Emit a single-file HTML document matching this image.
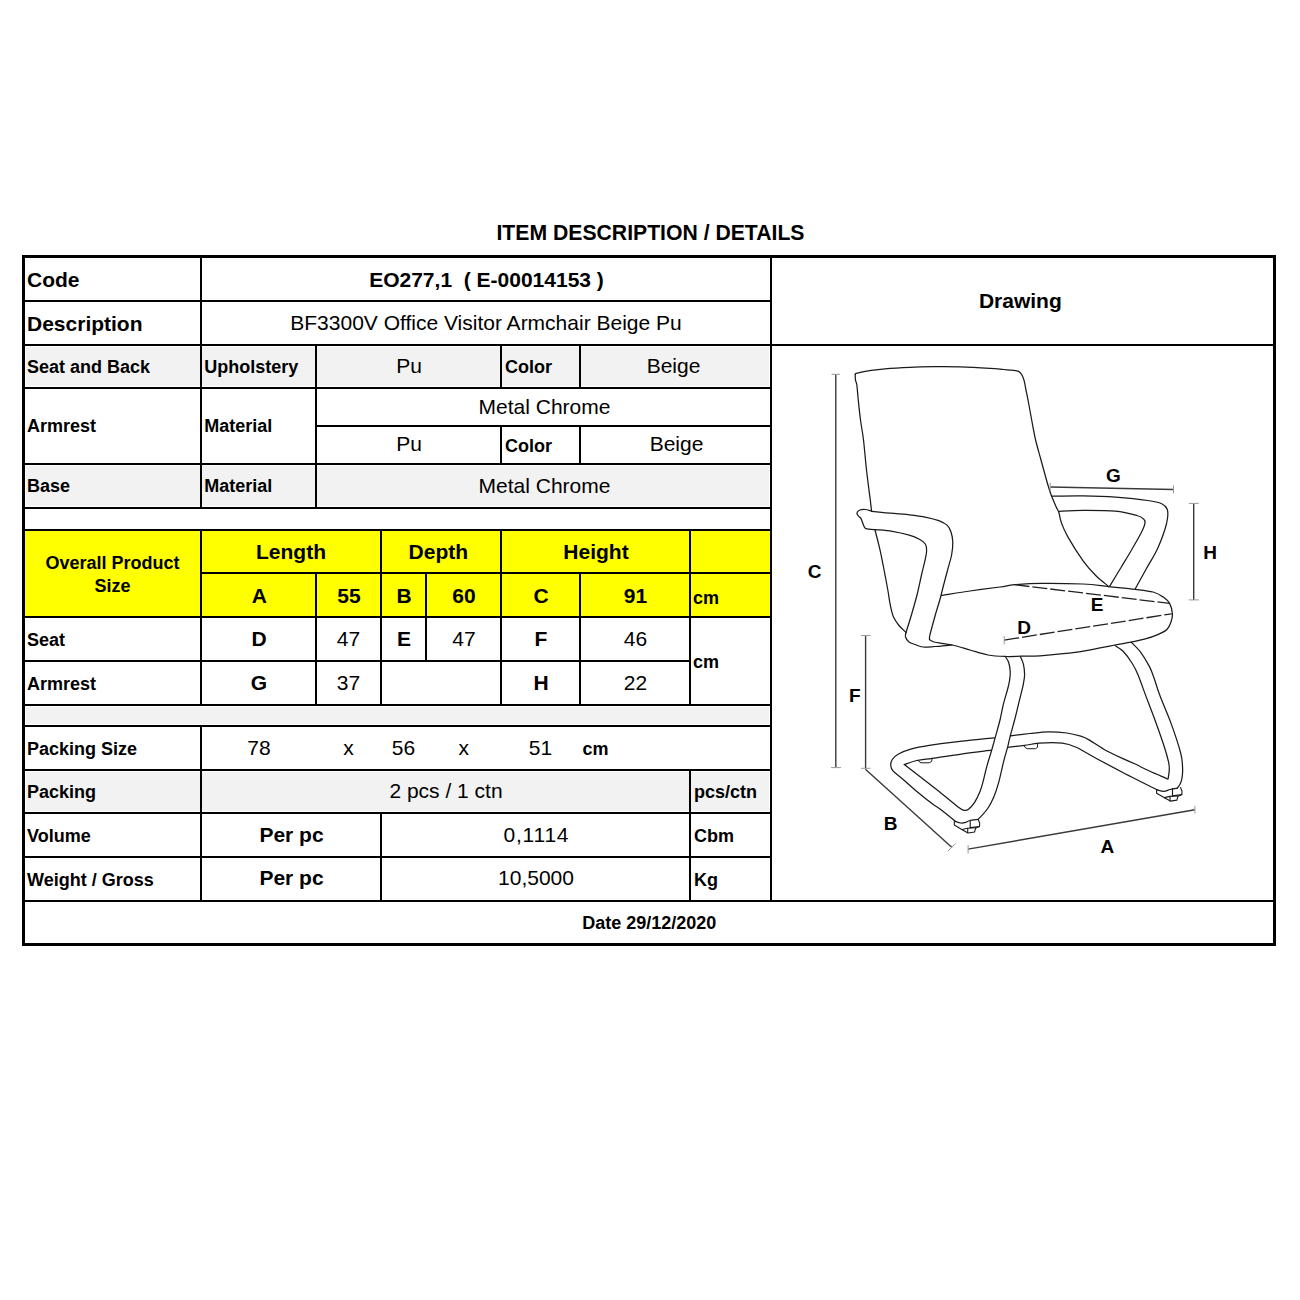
<!DOCTYPE html>
<html><head><meta charset="utf-8"><style>
html,body{margin:0;padding:0;background:#fff;width:1300px;height:1300px;overflow:hidden}
body{position:relative;font-family:"Liberation Sans", sans-serif;color:#000}
div{position:absolute}
.t{white-space:pre;}
</style></head><body>
<div style="left:26px;top:347px;width:743px;height:39px;background:#f2f2f2"></div><div style="left:26px;top:466px;width:743px;height:40px;background:#f2f2f2"></div><div style="left:26px;top:707px;width:743px;height:17px;background:#f2f2f2"></div><div style="left:26px;top:772px;width:743px;height:39px;background:#f2f2f2"></div><div style="left:25px;top:531px;width:745px;height:85px;background:#ffff00"></div><div style="left:22px;top:255px;width:1254px;height:3px;background:#000"></div><div style="left:22px;top:943px;width:1254px;height:3px;background:#000"></div><div style="left:22px;top:255px;width:3px;height:691px;background:#000"></div><div style="left:1273px;top:255px;width:3px;height:691px;background:#000"></div><div style="left:22px;top:300px;width:749px;height:2px;background:#000"></div><div style="left:22px;top:344px;width:1252px;height:2px;background:#000"></div><div style="left:22px;top:387px;width:749px;height:2px;background:#000"></div><div style="left:316px;top:425px;width:455px;height:2px;background:#000"></div><div style="left:22px;top:463px;width:749px;height:2px;background:#000"></div><div style="left:22px;top:507px;width:749px;height:2px;background:#000"></div><div style="left:22px;top:529px;width:749px;height:2px;background:#000"></div><div style="left:200px;top:572px;width:571px;height:2px;background:#000"></div><div style="left:22px;top:616px;width:749px;height:2px;background:#000"></div><div style="left:22px;top:660px;width:668px;height:2px;background:#000"></div><div style="left:22px;top:704px;width:749px;height:2px;background:#000"></div><div style="left:22px;top:725px;width:749px;height:2px;background:#000"></div><div style="left:22px;top:769px;width:749px;height:2px;background:#000"></div><div style="left:22px;top:812px;width:749px;height:2px;background:#000"></div><div style="left:22px;top:856px;width:749px;height:2px;background:#000"></div><div style="left:22px;top:900px;width:1252px;height:2px;background:#000"></div><div style="left:770px;top:255px;width:2px;height:646px;background:#000"></div><div style="left:200px;top:255px;width:2px;height:253px;background:#000"></div><div style="left:200px;top:529px;width:2px;height:176px;background:#000"></div><div style="left:200px;top:725px;width:2px;height:176px;background:#000"></div><div style="left:315px;top:344px;width:2px;height:164px;background:#000"></div><div style="left:315px;top:572px;width:2px;height:133px;background:#000"></div><div style="left:380px;top:529px;width:2px;height:176px;background:#000"></div><div style="left:380px;top:812px;width:2px;height:89px;background:#000"></div><div style="left:425px;top:572px;width:2px;height:90px;background:#000"></div><div style="left:500px;top:344px;width:2px;height:44px;background:#000"></div><div style="left:500px;top:425px;width:2px;height:39px;background:#000"></div><div style="left:500px;top:529px;width:2px;height:176px;background:#000"></div><div style="left:579px;top:344px;width:2px;height:44px;background:#000"></div><div style="left:579px;top:425px;width:2px;height:39px;background:#000"></div><div style="left:579px;top:572px;width:2px;height:133px;background:#000"></div><div style="left:689px;top:529px;width:2px;height:176px;background:#000"></div><div style="left:689px;top:769px;width:2px;height:132px;background:#000"></div><div class="t" style="left:350.5px;width:600px;text-align:center;top:222.05px;font-size:21.2px;line-height:21.2px;font-weight:bold;">ITEM DESCRIPTION / DETAILS</div><div class="t" style="left:27px;top:268.72px;font-size:21px;line-height:21px;font-weight:bold;">Code</div><div class="t" style="left:186.5px;width:600px;text-align:center;top:268.72px;font-size:21px;line-height:21px;font-weight:bold;">EO277,1&nbsp;&nbsp;( E-00014153 )</div><div class="t" style="left:27px;top:312.72px;font-size:21px;line-height:21px;font-weight:bold;">Description</div><div class="t" style="left:186px;width:600px;text-align:center;top:312.22px;font-size:21px;line-height:21px;">BF3300V Office Visitor Armchair Beige Pu</div><div class="t" style="left:720.3px;width:600px;text-align:center;top:289.82px;font-size:21px;line-height:21px;font-weight:bold;">Drawing</div><div class="t" style="left:27px;top:358.26px;font-size:18px;line-height:18px;font-weight:bold;">Seat and Back</div><div class="t" style="left:204.3px;top:358.26px;font-size:18px;line-height:18px;font-weight:bold;">Upholstery</div><div class="t" style="left:109px;width:600px;text-align:center;top:354.72px;font-size:21px;line-height:21px;">Pu</div><div class="t" style="left:505px;top:358.26px;font-size:18px;line-height:18px;font-weight:bold;">Color</div><div class="t" style="left:373.5px;width:600px;text-align:center;top:354.72px;font-size:21px;line-height:21px;">Beige</div><div class="t" style="left:27px;top:417.26px;font-size:18px;line-height:18px;font-weight:bold;">Armrest</div><div class="t" style="left:204.3px;top:417.26px;font-size:18px;line-height:18px;font-weight:bold;">Material</div><div class="t" style="left:244.5px;width:600px;text-align:center;top:396.22px;font-size:21px;line-height:21px;">Metal Chrome</div><div class="t" style="left:109px;width:600px;text-align:center;top:433.22px;font-size:21px;line-height:21px;">Pu</div><div class="t" style="left:505px;top:437.26px;font-size:18px;line-height:18px;font-weight:bold;">Color</div><div class="t" style="left:376.5px;width:600px;text-align:center;top:433.22px;font-size:21px;line-height:21px;">Beige</div><div class="t" style="left:27px;top:477.26px;font-size:18px;line-height:18px;font-weight:bold;">Base</div><div class="t" style="left:204.3px;top:477.26px;font-size:18px;line-height:18px;font-weight:bold;">Material</div><div class="t" style="left:244.5px;width:600px;text-align:center;top:474.72px;font-size:21px;line-height:21px;">Metal Chrome</div><div class="t" style="left:-187.5px;width:600px;text-align:center;top:554.26px;font-size:18px;line-height:18px;font-weight:bold;">Overall Product</div><div class="t" style="left:-187.5px;width:600px;text-align:center;top:577.26px;font-size:18px;line-height:18px;font-weight:bold;">Size</div><div class="t" style="left:-9px;width:600px;text-align:center;top:541.22px;font-size:21px;line-height:21px;font-weight:bold;">Length</div><div class="t" style="left:138.3px;width:600px;text-align:center;top:541.22px;font-size:21px;line-height:21px;font-weight:bold;">Depth</div><div class="t" style="left:296px;width:600px;text-align:center;top:541.22px;font-size:21px;line-height:21px;font-weight:bold;">Height</div><div class="t" style="left:-40.60000000000002px;width:600px;text-align:center;top:585.22px;font-size:21px;line-height:21px;font-weight:bold;">A</div><div class="t" style="left:49px;width:600px;text-align:center;top:585.22px;font-size:21px;line-height:21px;font-weight:bold;">55</div><div class="t" style="left:104px;width:600px;text-align:center;top:585.22px;font-size:21px;line-height:21px;font-weight:bold;">B</div><div class="t" style="left:164px;width:600px;text-align:center;top:585.22px;font-size:21px;line-height:21px;font-weight:bold;">60</div><div class="t" style="left:241px;width:600px;text-align:center;top:585.22px;font-size:21px;line-height:21px;font-weight:bold;">C</div><div class="t" style="left:335.5px;width:600px;text-align:center;top:585.22px;font-size:21px;line-height:21px;font-weight:bold;">91</div><div class="t" style="left:693px;top:588.76px;font-size:18px;line-height:18px;font-weight:bold;">cm</div><div class="t" style="left:27px;top:631.26px;font-size:18px;line-height:18px;font-weight:bold;">Seat</div><div class="t" style="left:27px;top:675.26px;font-size:18px;line-height:18px;font-weight:bold;">Armrest</div><div class="t" style="left:-41px;width:600px;text-align:center;top:627.72px;font-size:21px;line-height:21px;font-weight:bold;">D</div><div class="t" style="left:48.5px;width:600px;text-align:center;top:627.72px;font-size:21px;line-height:21px;">47</div><div class="t" style="left:104px;width:600px;text-align:center;top:627.72px;font-size:21px;line-height:21px;font-weight:bold;">E</div><div class="t" style="left:164px;width:600px;text-align:center;top:627.72px;font-size:21px;line-height:21px;">47</div><div class="t" style="left:241px;width:600px;text-align:center;top:627.72px;font-size:21px;line-height:21px;font-weight:bold;">F</div><div class="t" style="left:335.5px;width:600px;text-align:center;top:627.72px;font-size:21px;line-height:21px;">46</div><div class="t" style="left:-41px;width:600px;text-align:center;top:671.72px;font-size:21px;line-height:21px;font-weight:bold;">G</div><div class="t" style="left:48.5px;width:600px;text-align:center;top:671.72px;font-size:21px;line-height:21px;">37</div><div class="t" style="left:241px;width:600px;text-align:center;top:671.72px;font-size:21px;line-height:21px;font-weight:bold;">H</div><div class="t" style="left:335.5px;width:600px;text-align:center;top:671.72px;font-size:21px;line-height:21px;">22</div><div class="t" style="left:693px;top:652.76px;font-size:18px;line-height:18px;font-weight:bold;">cm</div><div class="t" style="left:27px;top:740.26px;font-size:18px;line-height:18px;font-weight:bold;">Packing Size</div><div class="t" style="left:-41px;width:600px;text-align:center;top:736.72px;font-size:21px;line-height:21px;">78</div><div class="t" style="left:48.5px;width:600px;text-align:center;top:736.72px;font-size:21px;line-height:21px;">x</div><div class="t" style="left:103.5px;width:600px;text-align:center;top:736.72px;font-size:21px;line-height:21px;">56</div><div class="t" style="left:163.8px;width:600px;text-align:center;top:736.72px;font-size:21px;line-height:21px;">x</div><div class="t" style="left:240.5px;width:600px;text-align:center;top:736.72px;font-size:21px;line-height:21px;">51</div><div class="t" style="left:582.5px;top:740.26px;font-size:18px;line-height:18px;font-weight:bold;">cm</div><div class="t" style="left:27px;top:783.46px;font-size:18px;line-height:18px;font-weight:bold;">Packing</div><div class="t" style="left:146px;width:600px;text-align:center;top:779.92px;font-size:21px;line-height:21px;">2 pcs / 1 ctn</div><div class="t" style="left:694px;top:783.46px;font-size:18px;line-height:18px;font-weight:bold;">pcs/ctn</div><div class="t" style="left:27px;top:827.06px;font-size:18px;line-height:18px;font-weight:bold;">Volume</div><div class="t" style="left:-8.5px;width:600px;text-align:center;top:823.52px;font-size:21px;line-height:21px;font-weight:bold;">Per pc</div><div class="t" style="left:236.39999999999998px;width:600px;text-align:center;top:823.52px;font-size:21px;line-height:21px;letter-spacing:0.8px;">0,1114</div><div class="t" style="left:694px;top:827.06px;font-size:18px;line-height:18px;font-weight:bold;">Cbm</div><div class="t" style="left:27px;top:870.76px;font-size:18px;line-height:18px;font-weight:bold;">Weight / Gross</div><div class="t" style="left:-8.5px;width:600px;text-align:center;top:867.22px;font-size:21px;line-height:21px;font-weight:bold;">Per pc</div><div class="t" style="left:236px;width:600px;text-align:center;top:867.22px;font-size:21px;line-height:21px;">10,5000</div><div class="t" style="left:694px;top:870.76px;font-size:18px;line-height:18px;font-weight:bold;">Kg</div><div class="t" style="left:349.29999999999995px;width:600px;text-align:center;top:913.76px;font-size:18px;line-height:18px;font-weight:bold;">Date 29/12/2020</div><div class="t" style="left:514.6px;width:600px;text-align:center;top:562.22px;font-size:19px;line-height:19px;font-weight:bold;">C</div><div class="t" style="left:554.8px;width:600px;text-align:center;top:685.62px;font-size:19px;line-height:19px;font-weight:bold;">F</div><div class="t" style="left:590.6px;width:600px;text-align:center;top:813.62px;font-size:19px;line-height:19px;font-weight:bold;">B</div><div class="t" style="left:807.4000000000001px;width:600px;text-align:center;top:837.22px;font-size:19px;line-height:19px;font-weight:bold;">A</div><div class="t" style="left:813.5px;width:600px;text-align:center;top:465.52px;font-size:19px;line-height:19px;font-weight:bold;">G</div><div class="t" style="left:910.2px;width:600px;text-align:center;top:542.82px;font-size:19px;line-height:19px;font-weight:bold;">H</div><div class="t" style="left:797px;width:600px;text-align:center;top:595.22px;font-size:19px;line-height:19px;font-weight:bold;">E</div><div class="t" style="left:724.0999999999999px;width:600px;text-align:center;top:618.42px;font-size:19px;line-height:19px;font-weight:bold;">D</div>
<svg width="1300" height="1300" viewBox="0 0 1300 1300" style="position:absolute;left:0;top:0"><path d="M871.6,511.4 C871.4,509.5 871.1,506.9 870.3,500.0 C869.4,493.1 867.6,480.0 866.5,470.0 C865.4,460.0 864.5,448.3 863.5,440.0 C862.5,431.7 861.4,426.8 860.5,420.0 C859.6,413.2 858.8,405.1 858.2,399.2 C857.6,393.3 857.2,387.6 856.8,384.5 C856.3,381.4 855.8,382.0 855.5,380.3 C855.2,378.6 855.2,375.1 855.2,374.1" stroke="#1a1a1a" stroke-width="1.25" fill="none" stroke-linecap="round" stroke-linejoin="round"/><path d="M855.2,374.1 C855.6,374.0 854.6,373.8 857.3,373.2 C859.9,372.6 866.5,371.1 871.1,370.4 C875.7,369.7 878.5,369.3 885.0,368.8 C891.5,368.3 901.7,367.7 910.0,367.3 C918.3,366.9 926.3,366.8 934.6,366.7 C942.9,366.6 950.8,366.6 960.0,366.9 C969.2,367.2 982.7,367.9 990.0,368.3 C997.3,368.7 999.3,369.1 1003.8,369.5 C1008.3,369.9 1014.1,370.3 1016.8,370.8 C1019.5,371.3 1019.1,371.7 1020.0,372.5 C1020.9,373.3 1021.6,374.3 1022.3,375.7 C1023.0,377.1 1023.6,378.4 1024.2,380.8 C1024.8,383.2 1025.3,386.6 1026.0,390.0 C1026.7,393.4 1027.4,396.7 1028.3,401.5 C1029.2,406.3 1030.3,412.6 1031.5,419.0 C1032.7,425.4 1034.0,433.2 1035.6,440.0 C1037.2,446.8 1039.2,453.3 1041.0,460.0 C1042.8,466.7 1044.9,474.3 1046.5,480.0 C1048.1,485.7 1049.2,489.5 1050.8,494.0 C1052.4,498.5 1054.9,503.8 1056.2,506.9 C1057.5,509.9 1057.9,509.6 1058.8,512.3 C1059.7,515.0 1060.0,519.0 1061.5,523.1 C1063.0,527.2 1064.4,530.8 1068.0,537.1 C1071.6,543.4 1078.4,554.3 1083.1,560.8 C1087.8,567.2 1091.7,571.5 1096.0,575.8 C1100.3,580.1 1106.8,584.8 1108.9,586.6" stroke="#1a1a1a" stroke-width="1.25" fill="none" stroke-linecap="round" stroke-linejoin="round"/><path d="M871.6,511.4 C873.6,511.6 877.5,512.1 883.8,512.7 C890.1,513.3 902.1,514.0 909.2,514.8 C916.3,515.6 921.3,516.3 926.2,517.3 C931.1,518.3 935.3,519.4 938.8,520.7 C942.3,522.1 945.2,523.5 947.3,525.4 C949.3,527.3 950.2,529.4 951.1,532.2 C952.0,535.0 952.7,538.5 952.8,542.3 C952.9,546.1 952.5,550.4 951.6,555.0 C950.7,559.6 948.9,565.0 947.6,570.0 C946.3,575.0 944.9,580.0 943.6,585.0 C942.3,590.0 941.2,595.0 939.8,600.0 C938.4,605.0 936.7,610.0 935.3,615.0 C933.9,620.0 932.2,626.4 931.2,630.0 C930.2,633.6 929.9,634.9 929.6,636.5 C929.3,638.1 929.5,639.0 929.5,639.5" stroke="#1a1a1a" stroke-width="1.25" fill="none" stroke-linecap="round" stroke-linejoin="round"/><path d="M929.5,639.5 C930.2,639.9 930.2,641.1 934.0,642.0 C937.8,642.9 946.0,643.7 952.0,645.0 C958.0,646.3 964.0,648.3 970.0,650.0 C976.0,651.7 982.0,653.9 988.0,655.0 C994.0,656.1 1000.6,656.3 1006.2,656.5 C1011.8,656.7 1015.9,656.3 1021.5,656.2 C1027.1,656.1 1030.8,656.5 1040.0,655.8 C1049.2,655.1 1067.0,653.5 1077.0,652.2 C1087.0,650.9 1093.7,649.1 1100.0,647.9 C1106.3,646.7 1109.8,646.0 1115.0,645.0 C1120.2,644.0 1126.0,643.1 1131.2,642.1 C1136.4,641.1 1141.8,640.0 1146.2,638.7 C1150.6,637.5 1154.2,636.1 1157.7,634.6 C1161.2,633.1 1164.7,631.6 1166.9,629.5 C1169.1,627.4 1170.1,624.6 1171.0,622.0 C1171.9,619.4 1172.6,616.9 1172.4,613.8 C1172.2,610.7 1171.1,606.1 1169.6,603.4 C1168.1,600.6 1166.3,599.2 1163.6,597.3 C1160.8,595.4 1157.8,593.3 1153.1,592.0 C1148.4,590.7 1142.7,590.2 1135.3,589.3 C1127.9,588.4 1117.6,587.5 1108.9,586.6 C1100.2,585.7 1094.2,584.5 1083.0,584.0 C1071.8,583.5 1052.9,583.2 1041.5,583.3 C1030.1,583.4 1021.4,584.1 1014.5,584.7 C1007.6,585.3 1007.4,586.0 1000.0,587.0 C992.6,588.0 979.8,589.6 970.0,591.0 C960.2,592.4 946.2,594.8 941.5,595.5" stroke="#1a1a1a" stroke-width="1.25" fill="none" stroke-linecap="round" stroke-linejoin="round"/><path d="M871.6,511.0 C870.5,510.8 867.2,509.6 865.2,509.5 C863.2,509.4 860.7,509.6 859.3,510.3 C857.9,511.0 856.9,512.4 856.9,513.5 C856.9,514.6 858.6,516.0 859.3,516.9 C860.0,517.8 860.1,516.9 861.0,518.6 C861.9,520.3 863.4,525.4 864.4,527.1 C865.4,528.8 865.1,528.4 866.9,528.8 C868.7,529.2 871.2,529.2 875.4,529.6 C879.6,530.0 886.7,530.4 892.3,531.3 C897.9,532.2 904.7,533.8 909.2,535.1 C913.7,536.4 916.7,537.8 919.4,539.3 C922.1,540.8 924.1,542.1 925.3,544.0 C926.5,545.9 926.7,548.0 926.6,550.8 C926.5,553.6 925.8,556.9 924.9,560.9 C924.0,564.9 922.8,569.3 921.5,575.0 C920.2,580.7 918.6,588.7 917.0,595.0 C915.4,601.3 913.8,606.8 912.0,613.0 C910.2,619.2 907.0,629.2 906.0,632.5" stroke="#1a1a1a" stroke-width="1.25" fill="none" stroke-linecap="round" stroke-linejoin="round"/><path d="M906.0,632.5 C905.9,633.2 905.0,635.4 905.5,637.0 C906.0,638.6 907.4,640.8 909.0,642.0 C910.6,643.2 912.7,643.7 915.0,644.5 C917.3,645.3 919.7,646.7 923.0,647.0 C926.3,647.3 930.2,646.8 935.0,646.5 C939.8,646.2 949.2,645.2 952.0,645.0" stroke="#1a1a1a" stroke-width="1.25" fill="none" stroke-linecap="round" stroke-linejoin="round"/><path d="M875.0,530.0 C875.8,533.0 878.2,542.2 879.6,548.2 C881.0,554.2 882.3,561.0 883.3,566.0 C884.3,571.0 884.8,573.8 885.6,578.0 C886.4,582.2 887.2,586.5 888.0,591.0 C888.8,595.5 889.4,600.7 890.3,605.0 C891.2,609.3 892.0,613.6 893.5,617.0 C895.0,620.4 896.9,622.9 899.0,625.5 C901.1,628.1 904.8,631.3 906.0,632.5" stroke="#1a1a1a" stroke-width="1.25" fill="none" stroke-linecap="round" stroke-linejoin="round"/><path d="M1052.4,496.2 C1057.5,496.1 1072.6,495.7 1083.1,495.9 C1093.6,496.1 1104.6,496.4 1115.4,497.2 C1126.2,498.0 1140.0,499.4 1147.7,500.5 C1155.4,501.6 1158.5,502.3 1161.7,503.7 C1164.9,505.1 1166.1,506.8 1167.1,509.1 C1168.1,511.4 1168.0,514.3 1167.6,517.7 C1167.2,521.1 1166.6,524.3 1164.9,529.5 C1163.2,534.7 1160.5,542.4 1157.4,548.9 C1154.4,555.4 1150.3,561.6 1146.6,568.3 C1142.9,574.9 1137.2,585.4 1135.3,588.8" stroke="#1a1a1a" stroke-width="1.25" fill="none" stroke-linecap="round" stroke-linejoin="round"/><path d="M1058.8,511.4 C1062.8,511.2 1073.7,510.4 1083.1,510.4 C1092.5,510.4 1106.4,510.3 1115.4,511.2 C1124.4,512.0 1132.2,514.2 1136.9,515.5 C1141.6,516.8 1142.1,517.5 1143.4,518.8 C1144.8,520.1 1145.4,520.8 1145.0,523.1 C1144.6,525.4 1143.5,528.3 1141.2,532.8 C1139.0,537.3 1134.7,544.4 1131.5,550.0 C1128.3,555.6 1125.5,560.1 1121.8,566.2 C1118.1,572.3 1111.5,583.2 1109.5,586.6" stroke="#1a1a1a" stroke-width="1.25" fill="none" stroke-linecap="round" stroke-linejoin="round"/><path d="M1005.5,656.8 C1006.0,657.7 1007.8,659.8 1008.6,662.3 C1009.4,664.8 1010.1,668.4 1010.2,671.5 C1010.4,674.6 1010.0,677.7 1009.5,680.8 C1009.0,683.9 1008.5,685.9 1007.4,690.0 C1006.3,694.1 1004.3,700.4 1003.1,705.4 C1001.9,710.4 1001.3,714.8 1000.0,720.0 C998.7,725.2 996.8,731.8 995.4,736.9 C994.0,742.0 992.9,745.9 991.5,750.8 C990.1,755.7 988.3,761.1 986.9,766.2 C985.5,771.3 984.2,777.3 983.1,781.5 C982.0,785.7 981.4,788.0 980.0,791.5 C978.6,795.0 976.5,799.3 974.6,802.3 C972.7,805.2 970.2,807.9 968.5,809.2 C966.8,810.6 966.1,810.6 964.6,810.4 C963.1,810.1 963.1,810.5 959.2,807.7 C955.4,804.9 948.5,799.0 941.5,793.4 C934.5,787.8 923.1,779.1 916.9,774.3 C910.7,769.5 906.4,766.1 904.3,764.5" stroke="#1a1a1a" stroke-width="1.25" fill="none" stroke-linecap="round" stroke-linejoin="round"/><path d="M904.3,764.5 C906.4,763.8 912.2,761.5 916.9,760.5 C921.6,759.5 925.1,759.3 932.3,758.3 C939.5,757.3 950.1,755.6 960.0,754.3 C969.9,752.9 986.2,750.9 991.5,750.2" stroke="#1a1a1a" stroke-width="1.25" fill="none" stroke-linecap="round" stroke-linejoin="round"/><path d="M1020.3,656.5 C1020.8,657.8 1022.7,661.2 1023.4,664.2 C1024.1,667.2 1024.6,671.3 1024.6,674.6 C1024.6,677.9 1024.2,679.7 1023.4,683.8 C1022.6,687.9 1021.2,693.2 1019.7,699.2 C1018.2,705.2 1016.2,714.0 1014.6,720.0 C1013.0,726.0 1011.5,730.9 1010.4,735.4 C1009.2,739.9 1008.8,742.7 1007.7,746.9 C1006.6,751.1 1005.3,754.8 1003.8,760.8 C1002.3,766.8 1000.2,777.1 998.5,783.1 C996.8,789.1 995.6,792.7 993.8,796.9 C992.0,801.1 989.8,805.4 987.7,808.5 C985.7,811.6 983.1,814.0 981.5,815.8 C979.9,817.6 978.4,818.9 977.8,819.5" stroke="#1a1a1a" stroke-width="1.25" fill="none" stroke-linecap="round" stroke-linejoin="round"/><path d="M977.8,819.5 C976.5,819.7 972.0,820.0 970.0,820.5 C968.0,821.0 967.3,821.9 965.8,822.3 C964.3,822.7 962.6,823.1 960.8,823.0 C959.0,822.9 956.1,821.7 955.2,821.4" stroke="#1a1a1a" stroke-width="1.25" fill="none" stroke-linecap="round" stroke-linejoin="round"/><path d="M955.2,821.4 C955.0,821.2 956.3,822.1 953.8,820.0 C951.3,817.9 943.6,811.6 940.0,808.9 C936.4,806.2 936.1,806.7 932.3,803.8 C928.4,800.9 922.0,795.8 916.9,791.5 C911.8,787.2 905.5,781.4 901.5,778.0 C897.5,774.6 895.0,773.2 893.2,771.2 C891.4,769.2 890.9,767.7 890.8,765.7 C890.6,763.8 891.0,761.5 892.3,759.5 C893.6,757.5 895.4,755.7 898.5,754.0 C901.6,752.3 905.7,750.5 910.8,749.1 C915.9,747.7 921.0,746.7 929.2,745.4 C937.4,744.1 949.1,742.7 960.0,741.4 C970.9,740.1 988.8,738.4 994.6,737.8" stroke="#1a1a1a" stroke-width="1.25" fill="none" stroke-linecap="round" stroke-linejoin="round"/><path d="M1010.4,735.8 C1013.7,735.4 1023.6,734.2 1030.0,733.5 C1036.3,732.8 1042.3,731.9 1048.5,731.8 C1054.7,731.7 1061.5,732.3 1066.9,733.0 C1072.3,733.7 1077.1,735.1 1080.8,736.2 C1084.5,737.4 1085.3,737.7 1089.1,739.9 C1092.9,742.1 1098.3,746.1 1103.8,749.2 C1109.3,752.3 1117.2,756.0 1122.3,758.4 C1127.4,760.8 1130.0,761.6 1134.6,763.8 C1139.2,765.9 1144.5,768.8 1150.0,771.3 C1155.5,773.8 1164.6,777.7 1167.5,779.0" stroke="#1a1a1a" stroke-width="1.25" fill="none" stroke-linecap="round" stroke-linejoin="round"/><path d="M1008.0,747.3 C1010.8,747.0 1019.4,746.1 1024.6,745.4 C1029.8,744.7 1032.9,743.6 1039.2,743.2 C1045.5,742.8 1056.1,742.5 1062.3,743.2 C1068.5,743.9 1070.8,744.9 1076.2,747.3 C1081.6,749.7 1086.9,753.4 1094.6,757.5 C1102.3,761.6 1111.9,766.8 1122.3,772.2 C1132.7,777.6 1151.3,786.9 1157.1,789.8" stroke="#1a1a1a" stroke-width="1.25" fill="none" stroke-linecap="round" stroke-linejoin="round"/><path d="M1157.1,789.8 C1158.2,790.1 1161.8,791.4 1164.0,791.4 C1166.2,791.4 1167.8,790.0 1170.0,789.5 C1172.2,789.0 1176.2,788.3 1177.4,788.1" stroke="#1a1a1a" stroke-width="1.25" fill="none" stroke-linecap="round" stroke-linejoin="round"/><path d="M1177.4,788.1 C1177.9,787.3 1179.8,785.1 1180.6,783.1 C1181.4,781.1 1182.0,778.8 1182.3,776.0 C1182.6,773.2 1182.8,770.0 1182.5,766.2 C1182.2,762.5 1182.6,760.4 1180.8,753.5 C1179.0,746.6 1175.0,734.2 1171.5,724.6 C1168.0,715.0 1162.9,703.5 1160.0,695.8 C1157.1,688.1 1155.9,683.3 1154.2,678.5 C1152.5,673.7 1151.9,671.3 1149.6,666.9 C1147.3,662.5 1143.5,656.0 1140.4,651.9 C1137.3,647.8 1132.7,643.7 1131.2,642.1" stroke="#1a1a1a" stroke-width="1.25" fill="none" stroke-linecap="round" stroke-linejoin="round"/><path d="M1115.0,645.6 C1116.3,646.5 1120.2,648.3 1123.1,651.3 C1126.0,654.3 1129.8,659.5 1132.3,663.5 C1134.8,667.5 1135.8,669.4 1138.1,675.0 C1140.4,680.6 1143.3,689.2 1146.2,696.9 C1149.1,704.6 1152.3,712.7 1155.4,721.2 C1158.5,729.7 1162.4,740.8 1164.6,747.7 C1166.8,754.6 1167.9,758.9 1168.7,762.7 C1169.5,766.6 1169.3,768.1 1169.2,770.8 C1169.1,773.5 1168.3,777.5 1168.1,778.8" stroke="#1a1a1a" stroke-width="1.25" fill="none" stroke-linecap="round" stroke-linejoin="round"/><polyline points="954.3,821.4 954.3,825.1 962.2,829.7 968,833 974.6,832 975.5,828.3 979.5,826.5 979.7,823.2 978.3,819.5" stroke="#1a1a1a" stroke-width="1.1" fill="none" stroke-linejoin="round" stroke-linecap="round"/><polyline points="970.2,820.3 970.2,827.6" stroke="#1a1a1a" stroke-width="1.1" fill="none" stroke-linejoin="round" stroke-linecap="round"/><polyline points="962.2,829.5 967.5,828.3 975.5,827.8" stroke="#1a1a1a" stroke-width="1.1" fill="none" stroke-linejoin="round" stroke-linecap="round"/><polyline points="967.7,828.5 967.7,832.8" stroke="#1a1a1a" stroke-width="1.1" fill="none" stroke-linejoin="round" stroke-linecap="round"/><polyline points="970.2,827.6 979.5,826.5" stroke="#1a1a1a" stroke-width="1.1" fill="none" stroke-linejoin="round" stroke-linecap="round"/><polyline points="1156.6,789.5 1156.6,793.2 1164.5,797.8000000000001 1170.3,801.1 1176.9,800.1 1177.8,796.4 1181.8,794.6 1182.0,791.3000000000001 1180.6,787.6" stroke="#1a1a1a" stroke-width="1.1" fill="none" stroke-linejoin="round" stroke-linecap="round"/><polyline points="1172.5,788.4 1172.5,795.7" stroke="#1a1a1a" stroke-width="1.1" fill="none" stroke-linejoin="round" stroke-linecap="round"/><polyline points="1164.5,797.6 1169.8,796.4 1177.8,795.9" stroke="#1a1a1a" stroke-width="1.1" fill="none" stroke-linejoin="round" stroke-linecap="round"/><polyline points="1170.0,796.6 1170.0,800.9" stroke="#1a1a1a" stroke-width="1.1" fill="none" stroke-linejoin="round" stroke-linecap="round"/><polyline points="1172.5,795.7 1181.8,794.6" stroke="#1a1a1a" stroke-width="1.1" fill="none" stroke-linejoin="round" stroke-linecap="round"/><polyline points="918.2,760.2 919.5,762 921,762.8 929.2,762.8 931.6,761.5 932.2,758.3" stroke="#1a1a1a" stroke-width="1.0" fill="none" stroke-linejoin="round" stroke-linecap="round"/><polyline points="1024.2,745.9 1025.5,747.8 1027.5,748.7 1035.5,748.7 1037.5,747.3 1037.6,744.2" stroke="#1a1a1a" stroke-width="1.0" fill="none" stroke-linejoin="round" stroke-linecap="round"/><line x1="835.8" y1="374.3" x2="835.8" y2="767.6" stroke="#3a3a3a" stroke-width="1.4"/><line x1="831.5" y1="374.3" x2="840" y2="374.3" stroke="#9a9a9a" stroke-width="1.0"/><line x1="831" y1="767.6" x2="841" y2="767.6" stroke="#9a9a9a" stroke-width="1.0"/><line x1="865.6" y1="635.5" x2="865.6" y2="768.3" stroke="#3a3a3a" stroke-width="1.4"/><line x1="861" y1="635.5" x2="870.5" y2="635.5" stroke="#9a9a9a" stroke-width="1.0"/><line x1="861" y1="768.3" x2="870.5" y2="768.3" stroke="#9a9a9a" stroke-width="1.0"/><line x1="865.4" y1="769.2" x2="952" y2="847.5" stroke="#3a3a3a" stroke-width="1.4"/><line x1="948" y1="851" x2="955.5" y2="843.5" stroke="#9a9a9a" stroke-width="1.0"/><line x1="968.1" y1="849.1" x2="1194.9" y2="809.8" stroke="#3a3a3a" stroke-width="1.4"/><line x1="968.1" y1="845" x2="968.1" y2="853.5" stroke="#9a9a9a" stroke-width="1.0"/><line x1="1194.9" y1="805.9" x2="1194.9" y2="813.5" stroke="#9a9a9a" stroke-width="1.0"/><line x1="1050.2" y1="487" x2="1173.5" y2="489.5" stroke="#3a3a3a" stroke-width="1.4"/><line x1="1050.2" y1="482.7" x2="1050.2" y2="491.5" stroke="#9a9a9a" stroke-width="1.0"/><line x1="1173.5" y1="485.5" x2="1173.5" y2="493.5" stroke="#9a9a9a" stroke-width="1.0"/><line x1="1193.7" y1="503.4" x2="1193.7" y2="599.9" stroke="#3a3a3a" stroke-width="1.4"/><line x1="1188.8" y1="503.4" x2="1198.8" y2="503.4" stroke="#9a9a9a" stroke-width="1.0"/><line x1="1188.8" y1="599.9" x2="1198.8" y2="599.9" stroke="#9a9a9a" stroke-width="1.0"/><line x1="1004.2" y1="640.1" x2="1171.7" y2="613.8" stroke="#222" stroke-width="1.3" stroke-dasharray="15,3"/><line x1="1004.2" y1="636" x2="1004.2" y2="644.5" stroke="#9a9a9a" stroke-width="1.0"/><line x1="1014.5" y1="584.7" x2="1169.6" y2="603.4" stroke="#222" stroke-width="1.3" stroke-dasharray="15,3"/></svg>
</body></html>
